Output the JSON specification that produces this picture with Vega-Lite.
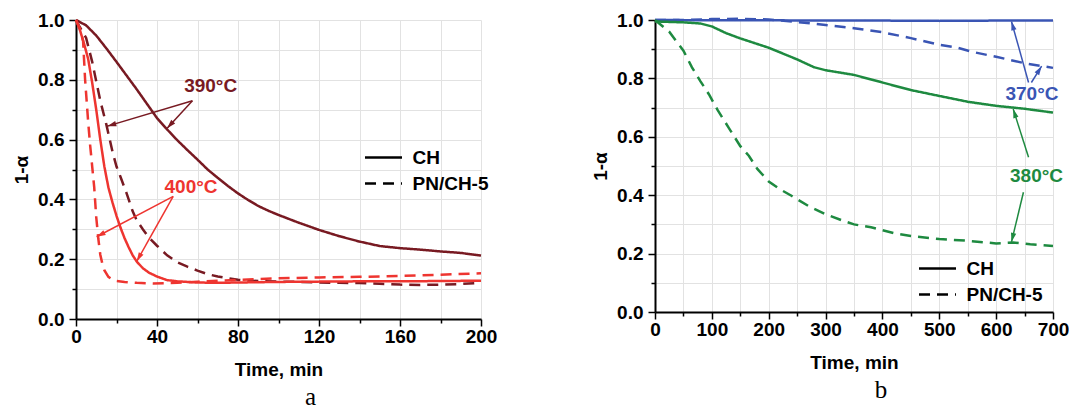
{
  "$schema": "https://vega.github.io/schema/vega-lite/v6.json",
  "padding": {"left": 12, "top": 11, "right": 5, "bottom": 0},
  "background": "white",
  "config": {
    "font": "Liberation Sans",
    "view": {"stroke": null},
    "axis": {"labelFont": "Liberation Sans", "labelFontSize": 19, "labelFontWeight": "bold", "labelColor": "#000", "labelFlush": false, "titleFont": "Liberation Sans", "titleFontSize": 19, "titleFontWeight": "bold", "titleColor": "#000", "domainColor": "#000", "domainWidth": 2, "tickColor": "#000", "tickWidth": 1.5, "gridColor": "#e2e2e2", "gridWidth": 1},
    "title": {"font": "Liberation Serif", "fontSize": 25, "fontWeight": "normal", "color": "#000"}
  },
  "datasets": {
    "curvesA": [
      {"temp": "390°C", "mat": "CH", "t": 0, "v": 1.0},
      {"temp": "390°C", "mat": "CH", "t": 5, "v": 0.982},
      {"temp": "390°C", "mat": "CH", "t": 10, "v": 0.948},
      {"temp": "390°C", "mat": "CH", "t": 15, "v": 0.905},
      {"temp": "390°C", "mat": "CH", "t": 20, "v": 0.86},
      {"temp": "390°C", "mat": "CH", "t": 25, "v": 0.814},
      {"temp": "390°C", "mat": "CH", "t": 30, "v": 0.768},
      {"temp": "390°C", "mat": "CH", "t": 35, "v": 0.72},
      {"temp": "390°C", "mat": "CH", "t": 40, "v": 0.672},
      {"temp": "390°C", "mat": "CH", "t": 45, "v": 0.634},
      {"temp": "390°C", "mat": "CH", "t": 50, "v": 0.598},
      {"temp": "390°C", "mat": "CH", "t": 55, "v": 0.565},
      {"temp": "390°C", "mat": "CH", "t": 60, "v": 0.533},
      {"temp": "390°C", "mat": "CH", "t": 65, "v": 0.5},
      {"temp": "390°C", "mat": "CH", "t": 70, "v": 0.472},
      {"temp": "390°C", "mat": "CH", "t": 75, "v": 0.445},
      {"temp": "390°C", "mat": "CH", "t": 80, "v": 0.42},
      {"temp": "390°C", "mat": "CH", "t": 85, "v": 0.398},
      {"temp": "390°C", "mat": "CH", "t": 90, "v": 0.378},
      {"temp": "390°C", "mat": "CH", "t": 95, "v": 0.362},
      {"temp": "390°C", "mat": "CH", "t": 100, "v": 0.348},
      {"temp": "390°C", "mat": "CH", "t": 110, "v": 0.322},
      {"temp": "390°C", "mat": "CH", "t": 120, "v": 0.298},
      {"temp": "390°C", "mat": "CH", "t": 130, "v": 0.277},
      {"temp": "390°C", "mat": "CH", "t": 140, "v": 0.259},
      {"temp": "390°C", "mat": "CH", "t": 150, "v": 0.244},
      {"temp": "390°C", "mat": "CH", "t": 160, "v": 0.237},
      {"temp": "390°C", "mat": "CH", "t": 170, "v": 0.232},
      {"temp": "390°C", "mat": "CH", "t": 180, "v": 0.226},
      {"temp": "390°C", "mat": "CH", "t": 190, "v": 0.221},
      {"temp": "390°C", "mat": "CH", "t": 200, "v": 0.212},
      {"temp": "390°C", "mat": "PN/CH-5", "t": 0, "v": 1.0},
      {"temp": "390°C", "mat": "PN/CH-5", "t": 2, "v": 0.975},
      {"temp": "390°C", "mat": "PN/CH-5", "t": 5, "v": 0.94},
      {"temp": "390°C", "mat": "PN/CH-5", "t": 8, "v": 0.86},
      {"temp": "390°C", "mat": "PN/CH-5", "t": 10, "v": 0.795},
      {"temp": "390°C", "mat": "PN/CH-5", "t": 12, "v": 0.73},
      {"temp": "390°C", "mat": "PN/CH-5", "t": 15, "v": 0.65},
      {"temp": "390°C", "mat": "PN/CH-5", "t": 18, "v": 0.56},
      {"temp": "390°C", "mat": "PN/CH-5", "t": 20, "v": 0.51},
      {"temp": "390°C", "mat": "PN/CH-5", "t": 22, "v": 0.475},
      {"temp": "390°C", "mat": "PN/CH-5", "t": 25, "v": 0.42},
      {"temp": "390°C", "mat": "PN/CH-5", "t": 28, "v": 0.36},
      {"temp": "390°C", "mat": "PN/CH-5", "t": 30, "v": 0.33},
      {"temp": "390°C", "mat": "PN/CH-5", "t": 33, "v": 0.3},
      {"temp": "390°C", "mat": "PN/CH-5", "t": 36, "v": 0.272},
      {"temp": "390°C", "mat": "PN/CH-5", "t": 40, "v": 0.245},
      {"temp": "390°C", "mat": "PN/CH-5", "t": 45, "v": 0.213},
      {"temp": "390°C", "mat": "PN/CH-5", "t": 50, "v": 0.19},
      {"temp": "390°C", "mat": "PN/CH-5", "t": 55, "v": 0.175},
      {"temp": "390°C", "mat": "PN/CH-5", "t": 60, "v": 0.162},
      {"temp": "390°C", "mat": "PN/CH-5", "t": 65, "v": 0.15},
      {"temp": "390°C", "mat": "PN/CH-5", "t": 70, "v": 0.142},
      {"temp": "390°C", "mat": "PN/CH-5", "t": 80, "v": 0.131},
      {"temp": "390°C", "mat": "PN/CH-5", "t": 90, "v": 0.127},
      {"temp": "390°C", "mat": "PN/CH-5", "t": 100, "v": 0.125},
      {"temp": "390°C", "mat": "PN/CH-5", "t": 110, "v": 0.124},
      {"temp": "390°C", "mat": "PN/CH-5", "t": 120, "v": 0.122},
      {"temp": "390°C", "mat": "PN/CH-5", "t": 130, "v": 0.121},
      {"temp": "390°C", "mat": "PN/CH-5", "t": 140, "v": 0.12},
      {"temp": "390°C", "mat": "PN/CH-5", "t": 150, "v": 0.118},
      {"temp": "390°C", "mat": "PN/CH-5", "t": 160, "v": 0.115},
      {"temp": "390°C", "mat": "PN/CH-5", "t": 170, "v": 0.114},
      {"temp": "390°C", "mat": "PN/CH-5", "t": 180, "v": 0.115},
      {"temp": "390°C", "mat": "PN/CH-5", "t": 190, "v": 0.117},
      {"temp": "390°C", "mat": "PN/CH-5", "t": 200, "v": 0.121},
      {"temp": "400°C", "mat": "CH", "t": 0, "v": 1.0},
      {"temp": "400°C", "mat": "CH", "t": 2, "v": 0.965},
      {"temp": "400°C", "mat": "CH", "t": 4, "v": 0.92},
      {"temp": "400°C", "mat": "CH", "t": 6, "v": 0.87},
      {"temp": "400°C", "mat": "CH", "t": 8, "v": 0.79},
      {"temp": "400°C", "mat": "CH", "t": 10, "v": 0.7},
      {"temp": "400°C", "mat": "CH", "t": 12, "v": 0.6},
      {"temp": "400°C", "mat": "CH", "t": 14, "v": 0.51},
      {"temp": "400°C", "mat": "CH", "t": 16, "v": 0.44},
      {"temp": "400°C", "mat": "CH", "t": 18, "v": 0.39},
      {"temp": "400°C", "mat": "CH", "t": 20, "v": 0.345},
      {"temp": "400°C", "mat": "CH", "t": 22, "v": 0.305},
      {"temp": "400°C", "mat": "CH", "t": 24, "v": 0.27},
      {"temp": "400°C", "mat": "CH", "t": 26, "v": 0.24},
      {"temp": "400°C", "mat": "CH", "t": 28, "v": 0.213},
      {"temp": "400°C", "mat": "CH", "t": 30, "v": 0.192},
      {"temp": "400°C", "mat": "CH", "t": 33, "v": 0.17},
      {"temp": "400°C", "mat": "CH", "t": 36, "v": 0.155},
      {"temp": "400°C", "mat": "CH", "t": 40, "v": 0.142},
      {"temp": "400°C", "mat": "CH", "t": 45, "v": 0.13},
      {"temp": "400°C", "mat": "CH", "t": 50, "v": 0.126},
      {"temp": "400°C", "mat": "CH", "t": 60, "v": 0.122},
      {"temp": "400°C", "mat": "CH", "t": 70, "v": 0.121},
      {"temp": "400°C", "mat": "CH", "t": 80, "v": 0.122},
      {"temp": "400°C", "mat": "CH", "t": 100, "v": 0.124},
      {"temp": "400°C", "mat": "CH", "t": 120, "v": 0.125},
      {"temp": "400°C", "mat": "CH", "t": 140, "v": 0.126},
      {"temp": "400°C", "mat": "CH", "t": 160, "v": 0.126},
      {"temp": "400°C", "mat": "CH", "t": 180, "v": 0.127},
      {"temp": "400°C", "mat": "CH", "t": 200, "v": 0.128},
      {"temp": "400°C", "mat": "PN/CH-5", "t": 0, "v": 1.0},
      {"temp": "400°C", "mat": "PN/CH-5", "t": 2, "v": 0.97},
      {"temp": "400°C", "mat": "PN/CH-5", "t": 3.5, "v": 0.93},
      {"temp": "400°C", "mat": "PN/CH-5", "t": 4.5, "v": 0.8},
      {"temp": "400°C", "mat": "PN/CH-5", "t": 6, "v": 0.66},
      {"temp": "400°C", "mat": "PN/CH-5", "t": 7, "v": 0.58},
      {"temp": "400°C", "mat": "PN/CH-5", "t": 8, "v": 0.51},
      {"temp": "400°C", "mat": "PN/CH-5", "t": 9, "v": 0.44},
      {"temp": "400°C", "mat": "PN/CH-5", "t": 10, "v": 0.34},
      {"temp": "400°C", "mat": "PN/CH-5", "t": 11, "v": 0.27},
      {"temp": "400°C", "mat": "PN/CH-5", "t": 12, "v": 0.215},
      {"temp": "400°C", "mat": "PN/CH-5", "t": 13, "v": 0.185},
      {"temp": "400°C", "mat": "PN/CH-5", "t": 14, "v": 0.163},
      {"temp": "400°C", "mat": "PN/CH-5", "t": 16, "v": 0.141},
      {"temp": "400°C", "mat": "PN/CH-5", "t": 18, "v": 0.132},
      {"temp": "400°C", "mat": "PN/CH-5", "t": 20, "v": 0.127},
      {"temp": "400°C", "mat": "PN/CH-5", "t": 24, "v": 0.124},
      {"temp": "400°C", "mat": "PN/CH-5", "t": 30, "v": 0.121},
      {"temp": "400°C", "mat": "PN/CH-5", "t": 38, "v": 0.119},
      {"temp": "400°C", "mat": "PN/CH-5", "t": 50, "v": 0.121},
      {"temp": "400°C", "mat": "PN/CH-5", "t": 60, "v": 0.125},
      {"temp": "400°C", "mat": "PN/CH-5", "t": 80, "v": 0.131},
      {"temp": "400°C", "mat": "PN/CH-5", "t": 100, "v": 0.136},
      {"temp": "400°C", "mat": "PN/CH-5", "t": 120, "v": 0.139},
      {"temp": "400°C", "mat": "PN/CH-5", "t": 140, "v": 0.141},
      {"temp": "400°C", "mat": "PN/CH-5", "t": 160, "v": 0.144},
      {"temp": "400°C", "mat": "PN/CH-5", "t": 180, "v": 0.148},
      {"temp": "400°C", "mat": "PN/CH-5", "t": 200, "v": 0.153}
    ],
    "curvesB": [
      {"temp": "370°C", "mat": "CH", "t": 0, "v": 1.0},
      {"temp": "370°C", "mat": "CH", "t": 100, "v": 0.999},
      {"temp": "370°C", "mat": "CH", "t": 200, "v": 0.999},
      {"temp": "370°C", "mat": "CH", "t": 300, "v": 0.998},
      {"temp": "370°C", "mat": "CH", "t": 400, "v": 0.998},
      {"temp": "370°C", "mat": "CH", "t": 500, "v": 0.997},
      {"temp": "370°C", "mat": "CH", "t": 600, "v": 0.998},
      {"temp": "370°C", "mat": "CH", "t": 700, "v": 0.998},
      {"temp": "370°C", "mat": "PN/CH-5", "t": 0, "v": 1.0},
      {"temp": "370°C", "mat": "PN/CH-5", "t": 50, "v": 1.0},
      {"temp": "370°C", "mat": "PN/CH-5", "t": 100, "v": 1.003},
      {"temp": "370°C", "mat": "PN/CH-5", "t": 150, "v": 1.004},
      {"temp": "370°C", "mat": "PN/CH-5", "t": 200, "v": 1.002},
      {"temp": "370°C", "mat": "PN/CH-5", "t": 250, "v": 0.993},
      {"temp": "370°C", "mat": "PN/CH-5", "t": 300, "v": 0.983},
      {"temp": "370°C", "mat": "PN/CH-5", "t": 350, "v": 0.972},
      {"temp": "370°C", "mat": "PN/CH-5", "t": 400, "v": 0.958},
      {"temp": "370°C", "mat": "PN/CH-5", "t": 450, "v": 0.938},
      {"temp": "370°C", "mat": "PN/CH-5", "t": 500, "v": 0.915},
      {"temp": "370°C", "mat": "PN/CH-5", "t": 530, "v": 0.906},
      {"temp": "370°C", "mat": "PN/CH-5", "t": 560, "v": 0.89},
      {"temp": "370°C", "mat": "PN/CH-5", "t": 600, "v": 0.874},
      {"temp": "370°C", "mat": "PN/CH-5", "t": 650, "v": 0.852},
      {"temp": "370°C", "mat": "PN/CH-5", "t": 700, "v": 0.836},
      {"temp": "380°C", "mat": "CH", "t": 0, "v": 0.995},
      {"temp": "380°C", "mat": "CH", "t": 50, "v": 0.992},
      {"temp": "380°C", "mat": "CH", "t": 80, "v": 0.988},
      {"temp": "380°C", "mat": "CH", "t": 100, "v": 0.978},
      {"temp": "380°C", "mat": "CH", "t": 125, "v": 0.955},
      {"temp": "380°C", "mat": "CH", "t": 150, "v": 0.937},
      {"temp": "380°C", "mat": "CH", "t": 200, "v": 0.905},
      {"temp": "380°C", "mat": "CH", "t": 250, "v": 0.865},
      {"temp": "380°C", "mat": "CH", "t": 280, "v": 0.838},
      {"temp": "380°C", "mat": "CH", "t": 300, "v": 0.828},
      {"temp": "380°C", "mat": "CH", "t": 350, "v": 0.812},
      {"temp": "380°C", "mat": "CH", "t": 400, "v": 0.786},
      {"temp": "380°C", "mat": "CH", "t": 450, "v": 0.76},
      {"temp": "380°C", "mat": "CH", "t": 500, "v": 0.74},
      {"temp": "380°C", "mat": "CH", "t": 550, "v": 0.72},
      {"temp": "380°C", "mat": "CH", "t": 600, "v": 0.706},
      {"temp": "380°C", "mat": "CH", "t": 650, "v": 0.696},
      {"temp": "380°C", "mat": "CH", "t": 700, "v": 0.683},
      {"temp": "380°C", "mat": "PN/CH-5", "t": 0, "v": 1.0},
      {"temp": "380°C", "mat": "PN/CH-5", "t": 25, "v": 0.96},
      {"temp": "380°C", "mat": "PN/CH-5", "t": 50, "v": 0.895},
      {"temp": "380°C", "mat": "PN/CH-5", "t": 65, "v": 0.838},
      {"temp": "380°C", "mat": "PN/CH-5", "t": 80, "v": 0.79},
      {"temp": "380°C", "mat": "PN/CH-5", "t": 95, "v": 0.745},
      {"temp": "380°C", "mat": "PN/CH-5", "t": 110, "v": 0.692},
      {"temp": "380°C", "mat": "PN/CH-5", "t": 130, "v": 0.63},
      {"temp": "380°C", "mat": "PN/CH-5", "t": 150, "v": 0.568},
      {"temp": "380°C", "mat": "PN/CH-5", "t": 165, "v": 0.535},
      {"temp": "380°C", "mat": "PN/CH-5", "t": 180, "v": 0.49},
      {"temp": "380°C", "mat": "PN/CH-5", "t": 200, "v": 0.447},
      {"temp": "380°C", "mat": "PN/CH-5", "t": 220, "v": 0.42},
      {"temp": "380°C", "mat": "PN/CH-5", "t": 240, "v": 0.398},
      {"temp": "380°C", "mat": "PN/CH-5", "t": 270, "v": 0.363},
      {"temp": "380°C", "mat": "PN/CH-5", "t": 300, "v": 0.335},
      {"temp": "380°C", "mat": "PN/CH-5", "t": 330, "v": 0.313},
      {"temp": "380°C", "mat": "PN/CH-5", "t": 350, "v": 0.3},
      {"temp": "380°C", "mat": "PN/CH-5", "t": 380, "v": 0.29},
      {"temp": "380°C", "mat": "PN/CH-5", "t": 420, "v": 0.27},
      {"temp": "380°C", "mat": "PN/CH-5", "t": 450, "v": 0.26},
      {"temp": "380°C", "mat": "PN/CH-5", "t": 500, "v": 0.25},
      {"temp": "380°C", "mat": "PN/CH-5", "t": 550, "v": 0.244},
      {"temp": "380°C", "mat": "PN/CH-5", "t": 600, "v": 0.235},
      {"temp": "380°C", "mat": "PN/CH-5", "t": 630, "v": 0.238},
      {"temp": "380°C", "mat": "PN/CH-5", "t": 660, "v": 0.232},
      {"temp": "380°C", "mat": "PN/CH-5", "t": 700, "v": 0.226}
    ],
    "arrowsA": [
      {"temp": "390°C", "t1": 57.5, "v1": 0.73, "t2": 15.5, "v2": 0.645},
      {"temp": "390°C", "t1": 57.5, "v1": 0.73, "t2": 45, "v2": 0.638},
      {"temp": "400°C", "t1": 48, "v1": 0.41, "t2": 10.2, "v2": 0.275},
      {"temp": "400°C", "t1": 48, "v1": 0.41, "t2": 30, "v2": 0.193}
    ],
    "arrowsB": [
      {"temp": "370°C", "t1": 657, "v1": 0.786, "t2": 627, "v2": 0.995},
      {"temp": "370°C", "t1": 662, "v1": 0.786, "t2": 680, "v2": 0.842},
      {"temp": "380°C", "t1": 657, "v1": 0.53, "t2": 630, "v2": 0.695},
      {"temp": "380°C", "t1": 648, "v1": 0.41, "t2": 627, "v2": 0.24}
    ],
    "labelsA": [
      {"temp": "390°C", "t": 66.5, "v": 0.778},
      {"temp": "400°C", "t": 56.8, "v": 0.44}
    ],
    "labelsB": [
      {"temp": "370°C", "t": 663, "v": 0.747},
      {"temp": "380°C", "t": 671, "v": 0.465}
    ]
  },
  "spacing": 94,
  "resolve": {"scale": {"color": "independent", "strokeDash": "independent"}, "legend": {"strokeDash": "independent"}},
  "hconcat": [
    {
      "width": 405,
      "height": 299,
      "title": {"text": "a", "orient": "bottom", "dx": 32, "offset": 6},
      "resolve": {"axis": {"x": "independent", "y": "independent"}},
      "layer": [
        {
          "data": {"name": "curvesA"},
          "mark": {"type": "line", "strokeWidth": 2.5},
          "encoding": {
            "x": {"field": "t", "type": "quantitative", "scale": {"domain": [0, 200], "nice": false}, "axis": {"values": [0, 40, 80, 120, 160, 200], "grid": true, "tickSize": 7, "labelPadding": 1, "title": "Time, min", "titlePadding": 14, "orient": "bottom"}},
            "y": {"field": "v", "type": "quantitative", "scale": {"domain": [0, 1], "nice": false}, "axis": {"values": [0, 0.2, 0.4, 0.6, 0.8, 1.0], "format": ".1f", "grid": true, "tickSize": 7, "labelPadding": 5, "title": "1-α", "titlePadding": 6, "orient": "left"}},
            "color": {"field": "temp", "type": "nominal", "scale": {"domain": ["390°C", "400°C"], "range": ["#781a22", "#ee3530"]}, "legend": null},
            "strokeDash": {"field": "mat", "type": "nominal", "scale": {"domain": ["CH", "PN/CH-5"], "range": [[1, 0], [11, 7]]},
              "legend": {"orient": "none", "legendX": 298, "legendY": 128, "title": null, "symbolType": "M-3,0L3,0", "symbolSize": 152, "symbolStrokeWidth": 2.5, "symbolStrokeColor": "#000", "labelFont": "Liberation Sans", "labelFontSize": 19, "labelFontWeight": "bold", "labelColor": "#000", "labelOffset": 19.5, "rowPadding": 6, "padding": 0}}
          }
        },
        {
          "data": {"name": "arrowsA"},
          "mark": {"type": "rule", "strokeWidth": 1.5},
          "encoding": {
            "x": {"field": "t1", "type": "quantitative", "axis": {"values": [20, 60, 100, 140, 180], "grid": true, "tickSize": 4, "labels": false, "domain": false, "title": null, "orient": "bottom"}},
            "y": {"field": "v1", "type": "quantitative", "axis": {"values": [0.1, 0.3, 0.5, 0.7, 0.9], "grid": true, "tickSize": 4, "labels": false, "domain": false, "title": null, "orient": "left"}},
            "x2": {"field": "t2"},
            "y2": {"field": "v2"},
            "color": {"field": "temp", "type": "nominal", "legend": null}
          }
        },
        {
          "data": {"name": "arrowsA"},
          "transform": [{"calculate": "atan2((datum.t2-datum.t1)*2.025, (datum.v2-datum.v1)*299)*180/PI", "as": "ang"}],
          "mark": {"type": "point", "shape": "M0,0L-0.6,2L0.6,2Z", "filled": true, "size": 80, "opacity": 1, "strokeWidth": 0},
          "encoding": {
            "x": {"field": "t2", "type": "quantitative", "axis": null},
            "y": {"field": "v2", "type": "quantitative", "axis": null},
            "angle": {"field": "ang", "type": "quantitative", "scale": null},
            "color": {"field": "temp", "type": "nominal", "legend": null}
          }
        },
        {
          "data": {"name": "labelsA"},
          "mark": {"type": "text", "font": "Liberation Sans", "fontSize": 19, "fontWeight": "bold"},
          "encoding": {
            "x": {"field": "t", "type": "quantitative", "axis": null},
            "y": {"field": "v", "type": "quantitative", "axis": null},
            "text": {"field": "temp"},
            "color": {"field": "temp", "type": "nominal", "legend": null}
          }
        }
      ]
    },
    {
      "width": 398,
      "height": 292,
      "title": {"text": "b", "orient": "bottom", "dx": 27, "offset": 6},
      "resolve": {"axis": {"x": "independent", "y": "independent"}},
      "layer": [
        {
          "data": {"name": "curvesB"},
          "mark": {"type": "line", "strokeWidth": 2.5},
          "encoding": {
            "x": {"field": "t", "type": "quantitative", "scale": {"domain": [0, 700], "nice": false}, "axis": {"values": [0, 100, 200, 300, 400, 500, 600, 700], "grid": true, "tickSize": 7, "labelPadding": 1, "title": "Time, min", "titlePadding": 14, "orient": "bottom"}},
            "y": {"field": "v", "type": "quantitative", "scale": {"domain": [0, 1], "nice": false}, "axis": {"values": [0, 0.2, 0.4, 0.6, 0.8, 1.0], "format": ".1f", "grid": true, "tickSize": 7, "labelPadding": 5, "title": "1-α", "titlePadding": 6, "orient": "left"}},
            "color": {"field": "temp", "type": "nominal", "scale": {"domain": ["370°C", "380°C"], "range": ["#3a55b4", "#1e8a40"]}, "legend": null},
            "strokeDash": {"field": "mat", "type": "nominal", "scale": {"domain": ["CH", "PN/CH-5"], "range": [[1, 0], [11, 7]]},
              "legend": {"orient": "none", "legendX": 273, "legendY": 239, "title": null, "symbolType": "M-3,0L3,0", "symbolSize": 152, "symbolStrokeWidth": 2.5, "symbolStrokeColor": "#000", "labelFont": "Liberation Sans", "labelFontSize": 19, "labelFontWeight": "bold", "labelColor": "#000", "labelOffset": 19.5, "rowPadding": 6, "padding": 0}}
          }
        },
        {
          "data": {"name": "arrowsB"},
          "mark": {"type": "rule", "strokeWidth": 1.5},
          "encoding": {
            "x": {"field": "t1", "type": "quantitative", "axis": {"values": [50, 150, 250, 350, 450, 550, 650], "grid": true, "tickSize": 4, "labels": false, "domain": false, "title": null, "orient": "bottom"}},
            "y": {"field": "v1", "type": "quantitative", "axis": {"values": [0.1, 0.3, 0.5, 0.7, 0.9], "grid": true, "tickSize": 4, "labels": false, "domain": false, "title": null, "orient": "left"}},
            "x2": {"field": "t2"},
            "y2": {"field": "v2"},
            "color": {"field": "temp", "type": "nominal", "legend": null}
          }
        },
        {
          "data": {"name": "arrowsB"},
          "transform": [{"calculate": "atan2((datum.t2-datum.t1)*0.568, (datum.v2-datum.v1)*291.7)*180/PI", "as": "ang"}],
          "mark": {"type": "point", "shape": "M0,0L-0.6,2L0.6,2Z", "filled": true, "size": 80, "opacity": 1, "strokeWidth": 0},
          "encoding": {
            "x": {"field": "t2", "type": "quantitative", "axis": null},
            "y": {"field": "v2", "type": "quantitative", "axis": null},
            "angle": {"field": "ang", "type": "quantitative", "scale": null},
            "color": {"field": "temp", "type": "nominal", "legend": null}
          }
        },
        {
          "data": {"name": "labelsB"},
          "mark": {"type": "text", "font": "Liberation Sans", "fontSize": 19, "fontWeight": "bold"},
          "encoding": {
            "x": {"field": "t", "type": "quantitative", "axis": null},
            "y": {"field": "v", "type": "quantitative", "axis": null},
            "text": {"field": "temp"},
            "color": {"field": "temp", "type": "nominal", "legend": null}
          }
        }
      ]
    }
  ]
}
